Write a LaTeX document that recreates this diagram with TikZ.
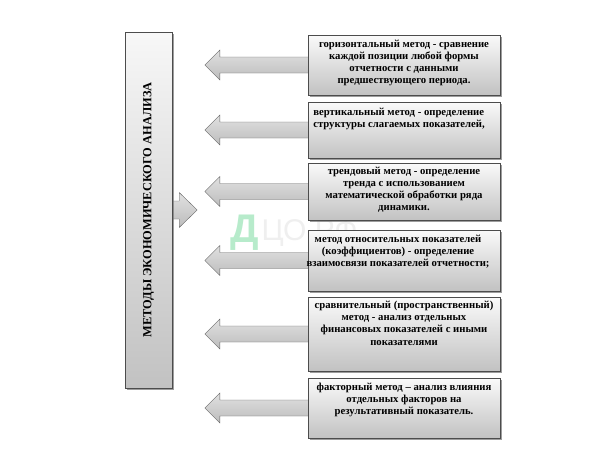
\documentclass[tikz,border=0pt]{standalone}
\usepackage{fontspec}
\setmainfont{Liberation Serif}
\newfontfamily\markfont{Liberation Sans}
\usetikzlibrary{positioning, calc, shadows, backgrounds}

\tikzset{
  methodbox/.style={draw=black!70, top color=gray!4, bottom color=gray!48,
    minimum width=192pt, inner sep=0pt,
    drop shadow={shadow xshift=1.6pt, shadow yshift=-1.6pt, opacity=0.7, fill=black!55}},
  titlebox/.style={draw=black!70, top color=gray!6, bottom color=gray!48,
    minimum width=47pt, minimum height=356pt, inner sep=0pt,
    drop shadow={shadow xshift=1.6pt, shadow yshift=-1.6pt, opacity=0.7, fill=black!55}},
  methodtext/.style={font=\bfseries\fontsize{10.7}{12.2}\selectfont, align=center, inner sep=0pt},
  blockarr/.style={draw=black!60, top color=gray!24, bottom color=gray!52},
}

% block arrow pointing left out of a method box
\newcommand{\methodarrow}[1]{%
  \path[blockarr] ($(#1.west)+(2,-8)$) -- ++(-90,0) -- ++(0,-7) -- ++(-15,15)
    -- ++(15,15) -- ++(0,-7) -- ++(90,0) -- cycle;}

\begin{document}
\begin{tikzpicture}[x=1pt,y=-1pt]
    \useasboundingbox (0,0) rectangle (602,467);

    % title
    \node[titlebox] (title) at (148.5,210) {};
    \node[methodtext, rotate=90, font=\bfseries\fontsize{12.4}{14}\selectfont] (titletext) at (title.center) {МЕТОДЫ ЭКОНОМИЧЕСКОГО АНАЛИЗА};

    % boxes
    \node[methodbox, minimum height=60pt] (horiz) at (404,65) {};
    \node[methodbox, minimum height=56pt] (vert) at (404,130) {};
    \node[methodbox, minimum height=57pt] (trend) at (404,191.5) {};
    \node[methodbox, minimum height=61pt] (ratio) at (404,260.5) {};
    \node[methodbox, minimum height=74pt] (compar) at (404,334) {};
    \node[methodbox, minimum height=60pt] (factor) at (404,408) {};

    % arrows and watermark, behind the boxes
    \begin{pgfonlayer}{background}
    \path[blockarr] ($(title.east)+(-3,-9)$) -- ++(10,0) -- ++(0,-8.5) -- ++(18,17.5)
        -- ++(-18,17.5) -- ++(0,-8.5) -- ++(-10,0) -- cycle;
    \methodarrow{horiz}
    \methodarrow{vert}
    \methodarrow{trend}
    \methodarrow{ratio}
    \methodarrow{compar}
    \methodarrow{factor}
    \node[font=\markfont\bfseries\fontsize{40}{40}\selectfont, text=green!45!teal!70, opacity=0.4, inner sep=0pt] (markd) at (245,233) {Д};
    \node[font=\markfont\fontsize{30}{30}\selectfont, text=gray, opacity=0.13, inner sep=0pt, right=2pt of markd] (markrest) {ЦО.РФ};
    \end{pgfonlayer}

    % labels
    \node[methodtext, below=5pt of horiz.north] (horiztext) {горизонтальный метод - сравнение\\каждой позиции любой формы\\отчетности с данными\\предшествующего периода.};
    \node[methodtext, align=left, below=6pt of vert.north, xshift=-5pt] (verttext) {вертикальный метод - определение\\структуры слагаемых показателей,};
    \node[methodtext, below=4pt of trend.north] (trendtext) {трендовый метод - определение\\тренда с использованием\\математической обработки ряда\\динамики.};
    \node[methodtext, below=5pt of ratio.north, xshift=-6pt] (ratiotext) {метод относительных показателей\\(коэффициентов) - определение\\взаимосвязи показателей отчетности;};
    \node[methodtext, below=4pt of compar.north] (compartext) {сравнительный (пространственный)\\метод - анализ отдельных\\финансовых показателей с иными\\показателями};
    \node[methodtext, below=5pt of factor.north] (factortext) {факторный метод -- анализ влияния\\отдельных факторов на\\результативный показатель.};
\end{tikzpicture}
\end{document}
